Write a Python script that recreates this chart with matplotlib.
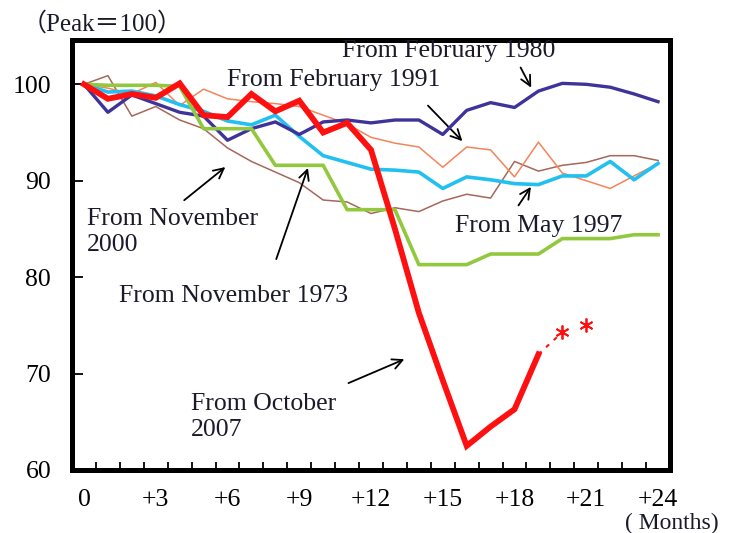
import matplotlib
matplotlib.use('Agg')
import matplotlib.pyplot as plt

# serif text, with a CJK family behind it for the full-width signs
plt.rcParams['font.family'] = ['Liberation Serif', 'Noto Sans CJK JP']

# months after the peak
months = list(range(25))

# series values (peak = 100)
feb_1980 = [100, 97.1, 98.9, 98.0, 97.1, 96.7, 94.2, 95.4, 96.1, 94.8, 96.1, 96.3, 96.0,
            96.3, 96.3, 94.8, 97.3, 98.1, 97.6, 99.3, 100.1, 100.0, 99.7, 99.0, 98.2]
feb_1991 = [100, 99.6, 99.0, 100.2, 97.8, 99.5, 98.5, 98.2, 98.0, 97.7, 96.8, 95.9, 94.5,
            93.9, 93.5, 91.4, 93.5, 93.2, 90.4, 94.0, 90.8, 90.0, 89.2, 90.5, 91.8]
may_1997 = [100, 99.2, 99.3, 98.8, 97.9, 97.2, 96.2, 95.8, 96.8, 94.6, 92.6, 91.9, 91.2,
            91.1, 90.9, 89.2, 90.4, 90.1, 89.7, 89.6, 90.5, 90.5, 92.0, 90.1, 91.8]
nov_2000 = [100, 100.9, 96.7, 97.7, 96.3, 95.4, 93.4, 92.0, 90.9, 89.8, 88.0, 87.8, 86.6,
            87.2, 86.8, 87.9, 88.6, 88.2, 92.0, 91.0, 91.6, 91.9, 92.6, 92.6, 92.1]
nov_1973 = [100, 99.9, 99.9, 99.9, 99.8, 95.4, 95.4, 95.4, 91.6, 91.6, 91.6, 87.0, 87.0,
            87.0, 81.3, 81.3, 81.3, 82.4, 82.4, 82.4, 84.0, 84.0, 84.0, 84.4, 84.4]
oct_2007 = [100, 98.5, 99.0, 98.6, 100.1, 96.8, 96.6, 99.0, 97.2, 98.3, 95.0, 96.0, 93.2,
            85.0, 76.3, 69.3, 62.5, 64.5, 66.3, 72.0]
# projection for the 2007 line
proj_months = [19, 20, 21]
proj_values = [72.0, 74.3, 75.0]

x_ticks = [0, 3, 6, 9, 12, 15, 18, 21, 24]
x_labels = ['0', '+3', '+6', '+9', '+12', '+15', '+18', '+21', '+24']
y_ticks = [60, 70, 80, 90, 100]

# create the figure and axis
fig = plt.figure(figsize=(7.32, 5.33), dpi=100)
ax = fig.add_axes([0.0984, 0.1182, 0.8169, 0.8068])

# thin lines first, thick ones on top
ax.plot(months, nov_2000, color='#A5685A', linewidth=1.1, zorder=2)
ax.plot(months, feb_1991, color='#F4845A', linewidth=1.1, zorder=2)
ax.plot(months, may_1997, color='#22C0F0', linewidth=2.6, zorder=3)
ax.plot(months, feb_1980, color='#3D3399', linewidth=2.4, zorder=4)
ax.plot(months, nov_1973, color='#92C83E', linewidth=2.6, zorder=5)
ax.plot(months[:len(oct_2007)], oct_2007, color='#FF1010', linewidth=4.2,
        solid_joinstyle='miter', zorder=6)
ax.plot(proj_months[:2], proj_values[:2], color='#FF1010', linewidth=1.5,
        linestyle=(0, (2, 3)), zorder=6)
ax.plot(proj_months[1:], proj_values[1:], linestyle='none', marker=(6, 2, 0),
        markersize=10, markeredgewidth=1.3, color='#FF1010', zorder=6)

# axis limits and ticks
ax.set_xlim(-0.5, 24.5)
ax.set_ylim(60, 104.6)
ax.set_xticks(x_ticks)
ax.set_xticklabels(x_labels)
ax.set_xticks([i + 0.5 for i in range(-1, 25)], minor=True)
ax.set_yticks(y_ticks)
ax.tick_params(axis='x', which='major', length=0, pad=14, labelsize=18.5)
ax.tick_params(axis='x', which='minor', direction='in', length=6, width=1.3)
ax.tick_params(axis='y', which='major', direction='in', length=8, width=1.3,
               pad=15, labelsize=18.5)
for spine in ax.spines.values():
    spine.set_linewidth(3.6)

# labels for each line, with arrows
arrow = dict(arrowstyle='->', color='black', linewidth=1.3, mutation_scale=18)
txt = dict(fontsize=18.5, color='#1a1a2a', ha='left', va='center')
ax.annotate('', xy=(18.75, 99.4), xytext=(18.2, 102.0), arrowprops=arrow)
ax.text(10.8, 103.5, 'From February 1980', **txt)
ax.annotate('', xy=(15.9, 93.9), xytext=(14.3, 98.0), arrowprops=arrow)
ax.text(5.96, 100.4, 'From February 1991', **txt)
ax.annotate('', xy=(6.0, 91.6), xytext=(4.1, 87.8), arrowprops=arrow)
ax.text(0.12, 84.7, 'From November\n2000', linespacing=1.2, **txt)
ax.annotate('', xy=(9.4, 91.6), xytext=(8.0, 81.6), arrowprops=arrow)
ax.text(1.46, 78.0, 'From November 1973', **txt)
ax.annotate('', xy=(18.75, 89.6), xytext=(18.1, 87.2), arrowprops=arrow)
ax.text(15.5, 85.3, 'From May 1997', **txt)
ax.annotate('', xy=(13.5, 71.6), xytext=(10.95, 68.9), arrowprops=arrow)
ax.text(4.46, 65.5, 'From October\n2007', linespacing=1.2, **txt)

# unit notes
fig.text(22 / 732, 1 - 24 / 533, '（Peak＝100）', fontsize=18, color='#1a1a2a',
         ha='left', va='center')
fig.text(672 / 732, 1 - 529 / 533, '( Months)', fontsize=17, color='#1a1a2a',
         ha='center', va='baseline')

fig.savefig('out.png', dpi=100)
